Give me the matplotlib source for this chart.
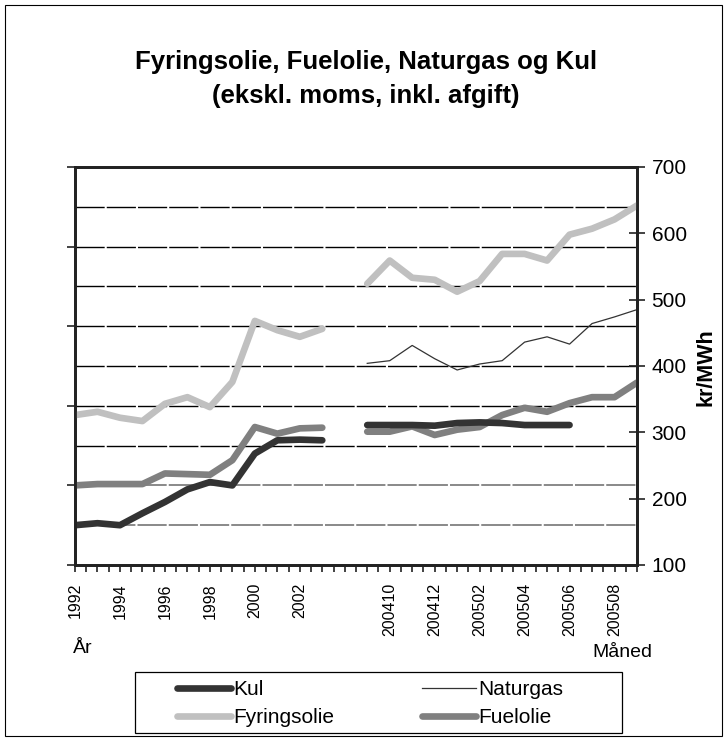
import numpy as np
import matplotlib
matplotlib.use("Agg")
import matplotlib.pyplot as plt
from matplotlib.patches import Rectangle
from matplotlib.ticker import FixedLocator

plt.rcParams['font.family'] = ['Liberation Sans', 'DejaVu Sans']
plt.rcParams['lines.scale_dashes'] = False

nan = np.nan
categories = ['1992', '1993', '1994', '1995', '1996', '1997', '1998', '1999', '2000', '2001',
              '2002', '2003', '', '200409', '200410', '200411', '200412', '200501', '200502',
              '200503', '200504', '200505', '200506', '200507', '200508', '200509']
shown_labels = ['1992', '1994', '1996', '1998', '2000', '2002',
                '200410', '200412', '200502', '200504', '200506', '200508']

kul = [160, 163, 160, 178, 195, 214, 225, 220, 268, 288, 289, 288, nan,
       311, 311, 311, 310, 314, 315, 314, 311, 311, 311, nan, nan, nan]
naturgas = [nan] * 13 + [404, 408, 431, 411, 394, 403, 408, 436, 444, 433, 464, 474, 485]
fyringsolie = [326, 331, 322, 317, 343, 353, 338, 376, 468, 454, 444, 456, nan,
               524, 559, 533, 530, 512, 528, 569, 569, 559, 598, 607, 621, 642]
fuelolie = [220, 222, 222, 222, 238, 237, 236, 258, 308, 298, 306, 307, nan,
            301, 301, 309, 296, 304, 308, 326, 337, 331, 344, 353, 353, 375]

right_ticks = [100, 200, 300, 400, 500, 600, 700]
left_ticks = [100, 220, 340, 460, 580, 700]
grid_black = [280, 340, 400, 460, 520, 580, 640]
grid_gray = [160, 220]

W, H = 728, 740
fig = plt.figure(figsize=(W / 100, H / 100), dpi=100)
fig.patch.set_facecolor('white')
fig.add_artist(Rectangle((5 / W, 4 / H), 717 / W, 731 / H, transform=fig.transFigure,
                         fill=False, edgecolor='black', linewidth=0.8))

ax = fig.add_axes([75 / W, 1 - 565 / H, (637 - 75) / W, (565 - 167) / H])
axr = ax.twinx()
x = np.arange(len(categories))

for g in grid_black:
    ax.axhline(g, color='black', linewidth=1.0, dashes=(21, 1.5), zorder=1)
for g in grid_gray:
    ax.axhline(g, color='#808080', linewidth=1.3, dashes=(21, 1.5), zorder=1)

lw = 4.8
ax.plot(x, fuelolie, color='#808080', linewidth=lw, solid_capstyle='round',
        solid_joinstyle='round', label='Fuelolie', zorder=3)
ax.plot(x, kul, color='#333333', linewidth=lw, solid_capstyle='round',
        solid_joinstyle='round', label='Kul', zorder=4)
ax.plot(x, fyringsolie, color='#c0c0c0', linewidth=lw, solid_capstyle='round',
        solid_joinstyle='round', label='Fyringsolie', zorder=3)
ax.plot(x, naturgas, color='#333333', linewidth=0.9, label='Naturgas', zorder=5)

ax.set_xlim(0, len(categories) - 1)
ax.set_ylim(100, 700)
axr.set_ylim(100, 700)

for a in (ax, axr):
    for s in a.spines.values():
        s.set_linewidth(2.0)
        s.set_color('#222222')

# x axis
label_pos = [categories.index(c) for c in shown_labels]
ax.set_xticks(label_pos)
ax.set_xticklabels(shown_labels, rotation=90, fontsize=11.5)
for t in ax.get_xticklabels():
    t.set_va('top')
    t.set_ha('center')
    t.set_rotation_mode('default')
ax.xaxis.set_minor_locator(FixedLocator(np.arange(0, len(categories) - 0.9, 0.5)))
ax.tick_params(axis='x', which='both', direction='out', length=5, width=1.2,
               color='#222222', pad=8)

# left axis: ticks only
ax.yaxis.tick_left()
ax.set_yticks(left_ticks)
ax.set_yticklabels([])
ax.tick_params(axis='y', direction='out', length=6, width=1.2, color='#222222')

# right value axis
axr.yaxis.tick_right()
axr.set_yticks(right_ticks)
axr.tick_params(axis='y', which='major', direction='inout', length=11, width=1.2,
                color='#222222', labelsize=15, pad=5)

fig.text(366 / W, 1 - 62 / H, 'Fyringsolie, Fuelolie, Naturgas og Kul',
         ha='center', va='center', fontsize=18.5, fontweight='bold')
fig.text(366 / W, 1 - 96 / H, '(ekskl. moms, inkl. afgift)',
         ha='center', va='center', fontsize=18.5, fontweight='bold')
fig.text(706 / W, 1 - 367 / H, 'kr/MWh', rotation=90, ha='center', va='center',
         fontsize=15.5, fontweight='bold')
fig.text(73 / W, 1 - 653 / H, 'År', ha='left', va='baseline', fontsize=14)
fig.text(652 / W, 1 - 657 / H, 'Måned', ha='right', va='baseline', fontsize=14)

# legend box
fig.add_artist(Rectangle((135 / W, 1 - 733 / H), (622 - 135) / W, (733 - 672) / H,
                         transform=fig.transFigure, fill=False, edgecolor='black',
                         linewidth=0.9))
handles, labels = ax.get_legend_handles_labels()
hd = dict(zip(labels, handles))
order = ['Kul', 'Fyringsolie', 'Naturgas', 'Fuelolie']
leg = fig.legend([hd[k] for k in order], order, ncol=2,
                 bbox_to_anchor=(177 / W, 1 - 680 / H),
                 loc='upper left', frameon=False, fontsize=15, handlelength=2.6,
                 handletextpad=0.1, labelspacing=0.45, borderpad=0, borderaxespad=0,
                 columnspacing=4.2)

fig.savefig('out.png', dpi=100, facecolor='white')
